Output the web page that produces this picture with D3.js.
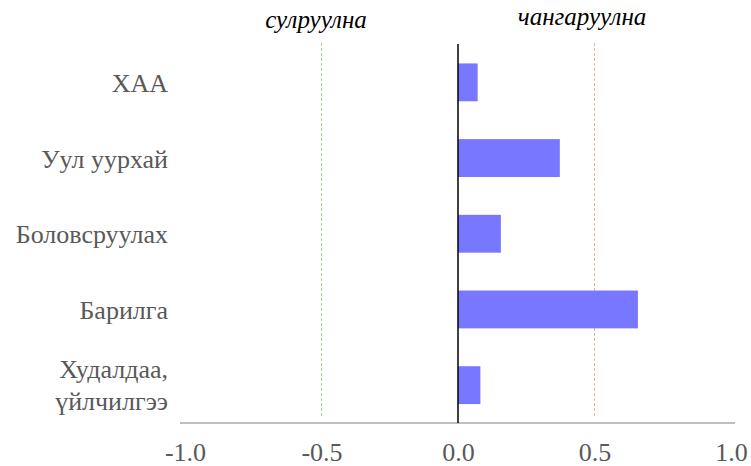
<!DOCTYPE html>
<html><head><meta charset="utf-8">
<script src="https://cdn.jsdelivr.net/npm/d3@7"></script>
<style>body{margin:0;background:#fff}svg{display:block}</style>
</head><body>
<script>
const categories = ["ХАА", "Уул уурхай", "Боловсруулах", "Барилга", "Худалдаа, үйлчилгээ"];
const values = [0.072, 0.373, 0.157, 0.659, 0.082];
const tickValues = [-1.0, -0.5, 0.0, 0.5, 1.0];
const refLines = [{v: -0.5, label: "сулруулна"}, {v: 0.5, label: "чангаруулна"}];

const W = 751, H = 466;
const svg = d3.select("body").append("svg").attr("width", W).attr("height", H);
const font = '"Liberation Serif","Times New Roman",serif';

const x = d3.scaleLinear().domain([-1, 1]).range([185, 731]);
const y = d3.scaleBand().domain(categories).range([44.5, 423]).paddingInner(0.5).paddingOuter(0.25);

// reference dashed lines
const refColors = ["#a9d18e", "#f4b183"];
refLines.forEach((r, i) => {
  svg.append("line").attr("x1", x(r.v)).attr("x2", x(r.v)).attr("y1", 43).attr("y2", 418)
    .attr("stroke", refColors[i]).attr("stroke-width", 1).attr("stroke-dasharray", "3,2");
});

// bars
svg.selectAll("rect.bar").data(values).enter().append("rect")
  .attr("x", d => x(Math.min(0, d)))
  .attr("width", d => Math.abs(x(d) - x(0)))
  .attr("y", (d, i) => y(categories[i]))
  .attr("height", y.bandwidth())
  .attr("fill", "#7777ff");

// x axis
const xAxis = d3.axisBottom(x).tickValues(tickValues).tickSize(0).tickPadding(20)
  .tickFormat(d => d < 0 ? "-" + d3.format(".1f")(-d) : d3.format(".1f")(d));
const gx = svg.append("g").attr("transform", "translate(0,423)").call(xAxis);
gx.select(".domain").attr("stroke", "#bfbfbf").attr("stroke-width", 2)
  .attr("d", "M180,0H735");
gx.selectAll("text").style("font-family", font).attr("font-size", 26).attr("fill", "#595959");

// zero line
svg.append("line").attr("x1", x(0)).attr("x2", x(0)).attr("y1", 44).attr("y2", 423)
  .attr("stroke", "#000").attr("stroke-width", 1.5);

// category labels
categories.forEach((c, i) => {
  const cy = y(c) + y.bandwidth() / 2;
  const t = svg.append("text").attr("x", 168).attr("text-anchor", "end")
    .style("font-family", font).attr("font-size", 26).attr("fill", "#595959");
  if (c.indexOf(", ") >= 0) {
    const parts = c.split(", ");
    t.append("tspan").attr("x", 168).attr("y", cy - 7).text(parts[0] + ",");
    t.append("tspan").attr("x", 168).attr("y", cy + 25).text(parts[1]);
  } else {
    t.attr("y", cy + 9.5).text(c);
  }
});

// header labels
svg.append("text").attr("x", 316).attr("y", 28).attr("text-anchor", "middle")
  .style("font-family", font).attr("font-style", "italic").attr("font-size", 25).attr("fill", "#000")
  .text(refLines[0].label);
svg.append("text").attr("x", 582).attr("y", 25).attr("text-anchor", "middle")
  .style("font-family", font).attr("font-style", "italic").attr("font-size", 25).attr("fill", "#000")
  .text(refLines[1].label);
</script>
</body></html>
